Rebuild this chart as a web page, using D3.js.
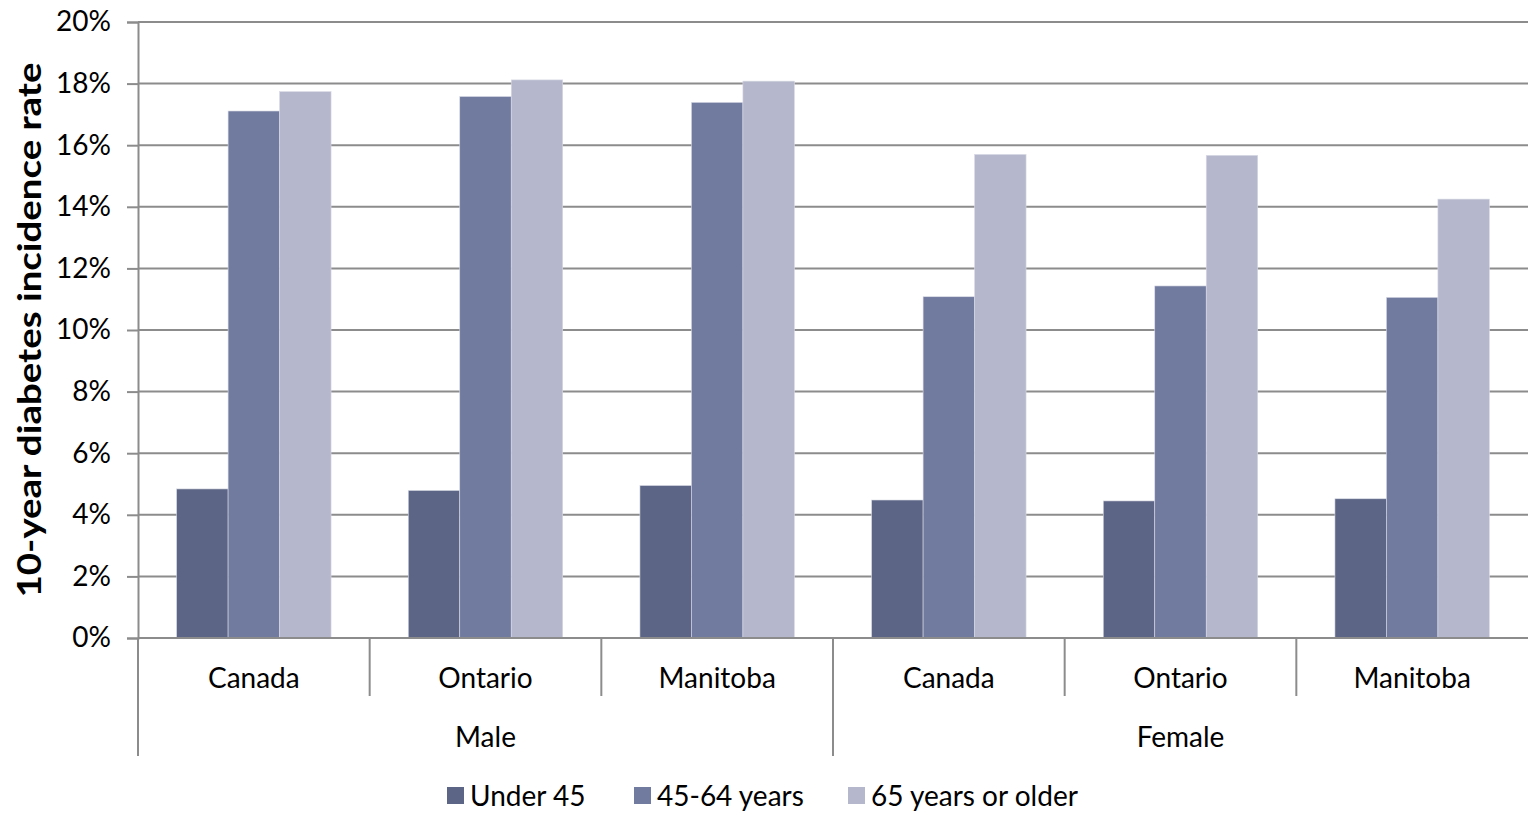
<!DOCTYPE html>
<html>
<head>
<meta charset="utf-8">
<script src="https://d3js.org/d3.v7.min.js"></script>
<style>
  html, body { margin: 0; padding: 0; background: #fff; }
  svg { display: block; font-family: "Lato", "Open Sans", sans-serif; }
</style>
</head>
<body>
<svg id="chart" width="1528" height="814"></svg>
<script>
// 10-year diabetes incidence by sex, region and age group
const sexes = ["Male", "Female"];
const regions = ["Canada", "Ontario", "Manitoba"];
const ageGroups = ["Under 45", "45-64 years", "65 years or older"];
const under45 = [4.84, 4.79, 4.95, 4.48, 4.45, 4.52];
const age45to64 = [17.11, 17.58, 17.39, 11.08, 11.43, 11.06];
const age65plus = [17.74, 18.12, 18.08, 15.70, 15.67, 14.25];
const yTicks = [0, 2, 4, 6, 8, 10, 12, 14, 16, 18, 20];
const colors = ["#5c6585", "#717ba0", "#b5b8cc"];

const series = [under45, age45to64, age65plus];
const categories = [];
sexes.forEach(s => regions.forEach(r => categories.push({ sex: s, region: r, key: s + "|" + r })));

const svg = d3.select("#chart");
const plotLeft = 138, plotRight = 1528, plotTop = 22, plotBottom = 638;
const fontSize = 28;

const x = d3.scaleBand().domain(categories.map(d => d.key)).range([plotLeft, plotRight]).paddingInner(0).paddingOuter(0);
const gap = 1.5; // gap width relative to bar width
const barW = x.bandwidth() / (ageGroups.length + gap);
const inner = d3.scaleBand().domain(ageGroups).range([barW * gap / 2, x.bandwidth() - barW * gap / 2]);
const y = d3.scaleLinear().domain([0, 20]).range([plotBottom, plotTop]);

// horizontal gridlines
svg.append("g").selectAll("line").data(yTicks.filter(t => t > 0)).join("line")
  .attr("x1", plotLeft).attr("x2", plotRight)
  .attr("y1", d => y(d)).attr("y2", d => y(d))
  .attr("stroke", "#8c8c8c").attr("stroke-width", 2);

// bars
const rows = categories.map((c, i) => ({ key: c.key, vals: series.map((s, j) => ({ age: ageGroups[j], v: s[i], j })) }));
svg.append("g").selectAll("g").data(rows).join("g")
  .attr("transform", d => `translate(${x(d.key)},0)`)
  .selectAll("rect").data(d => d.vals).join("rect")
  .attr("x", d => inner(d.age))
  .attr("width", inner.bandwidth())
  .attr("y", d => y(d.v))
  .attr("height", d => y(0) - y(d.v))
  .attr("fill", d => colors[d.j])
  .attr("stroke", "#d8dae4").attr("stroke-width", 0.6);

// y axis
const yAxis = d3.axisLeft(y).tickValues(yTicks).tickSize(11).tickPadding(16).tickFormat(d => d + "%");
const ya = svg.append("g").attr("transform", `translate(${plotLeft},0)`).call(yAxis);
ya.select(".domain").attr("stroke", "#8c8c8c").attr("stroke-width", 2);
ya.selectAll(".tick line").attr("stroke", "#8c8c8c").attr("stroke-width", 2);
ya.selectAll(".tick text").attr("font-size", fontSize).attr("fill", "#000").attr("font-family", "Lato, sans-serif");

// baseline
svg.append("line").attr("x1", plotLeft).attr("x2", plotRight).attr("y1", y(0)).attr("y2", y(0))
  .attr("stroke", "#8c8c8c").attr("stroke-width", 2);

// category separators
const sepShort = categories.map((c, i) => i).filter(i => i > 0 && i % regions.length !== 0);
svg.append("g").selectAll("line").data(sepShort).join("line")
  .attr("x1", i => x(categories[i].key)).attr("x2", i => x(categories[i].key))
  .attr("y1", plotBottom).attr("y2", plotBottom + 58)
  .attr("stroke", "#8c8c8c").attr("stroke-width", 2);
const sepLong = [0, regions.length];
svg.append("g").selectAll("line").data(sepLong).join("line")
  .attr("x1", i => x(categories[i].key)).attr("x2", i => x(categories[i].key))
  .attr("y1", plotBottom).attr("y2", plotBottom + 118)
  .attr("stroke", "#8c8c8c").attr("stroke-width", 2);

// region labels
svg.append("g").selectAll("text").data(categories).join("text")
  .attr("x", d => x(d.key) + x.bandwidth() / 2)
  .attr("y", plotBottom + 50)
  .attr("text-anchor", "middle").attr("font-size", fontSize).attr("fill", "#000")
  .text(d => d.region);

// sex labels
svg.append("g").selectAll("text").data(sexes).join("text")
  .attr("x", (d, i) => x(categories[i * regions.length].key) + x.bandwidth() * regions.length / 2)
  .attr("y", plotBottom + 109)
  .attr("text-anchor", "middle").attr("font-size", fontSize).attr("fill", "#000")
  .text(d => d);

// y title
svg.append("text")
  .attr("transform", `translate(41,330) rotate(-90)`)
  .attr("text-anchor", "middle").attr("font-size", 33).attr("font-weight", "bold").attr("fill", "#000")
  .attr("textLength", 535).attr("lengthAdjust", "spacingAndGlyphs")
  .text("10-year diabetes incidence rate");

// legend
const legendX = [447, 634, 848];
const lg = svg.append("g").selectAll("g").data(ageGroups).join("g")
  .attr("transform", (d, i) => `translate(${legendX[i]},787)`);
lg.append("rect").attr("width", 17).attr("height", 17).attr("fill", (d, i) => colors[i]);
lg.append("text").attr("x", 23).attr("y", 19).attr("font-size", fontSize).attr("fill", "#000").text(d => d);
</script>
</body>
</html>
